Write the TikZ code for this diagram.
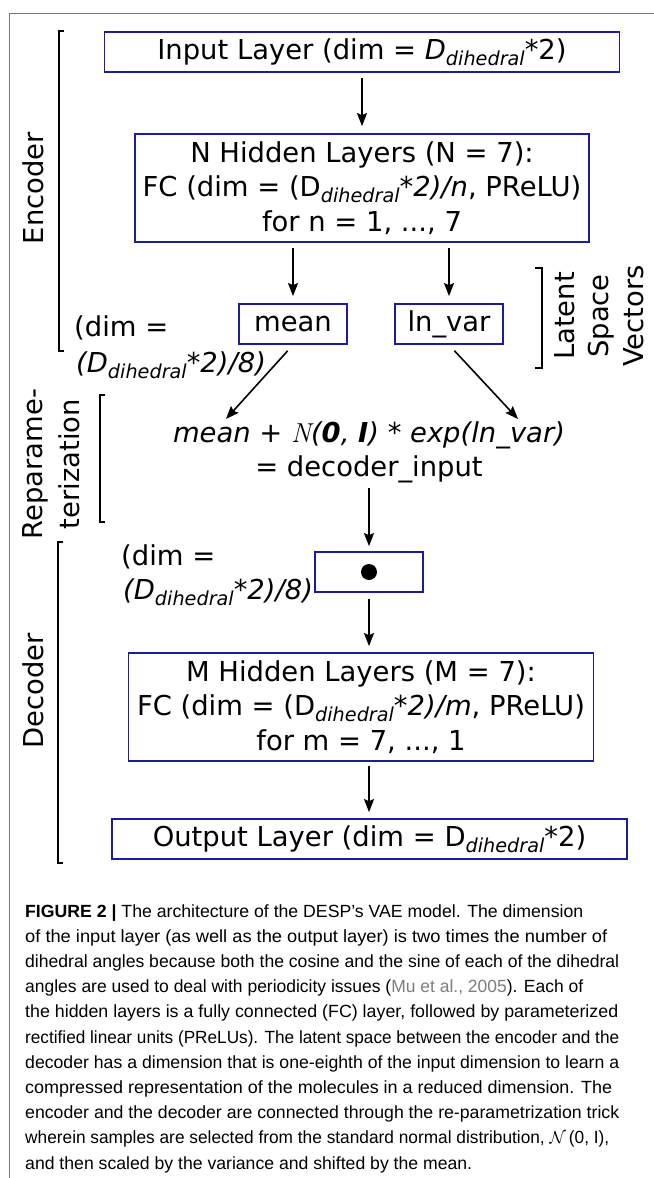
\documentclass[tikz,border=0pt]{standalone}
\usepackage{fontspec}
\usepackage{graphicx}
\usetikzlibrary{arrows.meta,calc}
\newfontfamily\djv{DejaVu Sans}
\newfontfamily\capfont{Liberation Sans}
\definecolor{boxblue}{RGB}{28,28,156}
\definecolor{refgray}{RGB}{125,125,125}
\definecolor{framegray}{RGB}{120,120,120}
\newcommand\dsub{\raisebox{-0.2em}{\fontsize{19.3}{19.3}\selectfont\itshape dihedral}}
\newcommand\capline[2]{\resizebox{#1bp}{\height}{#2}}
\begin{document}
\begin{tikzpicture}[x=1bp,y=-1bp,
  diag/.style={font=\djv\fontsize{27.5}{34.5}\selectfont},
  box/.style={diag, draw=boxblue, line width=1.8bp, inner sep=0pt, align=center},
  arr/.style={-{Stealth[length=13bp,width=10bp,inset=2bp]}, line width=1.6bp},
  brk/.style={line width=2bp},
  capl/.style={anchor=base west, inner sep=0pt, font=\capfont\fontsize{17.7}{20}\selectfont}]
\useasboundingbox (0,0) rectangle (654,1178);
\draw[framegray, line width=1bp] (654,13) -- (9,13) -- (9,1178);

% boxes
\node[box, minimum width=515bp, minimum height=40bp] (inp) at (362,52) {Input Layer (dim = \textit{D}\dsub*2)};
\node[box, minimum width=454bp, minimum height=108bp] (hid) at (362,188) {N Hidden Layers (N = 7):\\ FC (dim = (D\dsub\textit{*2)/n}, PReLU)\\ for n = 1, ..., 7};
\node[box, minimum width=108bp, minimum height=40bp] (mean) at (293,324) {mean};
\node[box, minimum width=108bp, minimum height=40bp] (lnv) at (449,324) {ln\_var};
\node[diag, inner sep=0pt, align=center] (rep) at (369,452) {\itshape mean + {\rmfamily\itshape N}(\textbf{0}, \textbf{I}) * exp(ln\_var)\\ \upshape = decoder\_input};
\node[box, minimum width=108bp, minimum height=40bp] (dot) at (369,572) {};
\fill (dot.center) circle (8bp);
\node[box, minimum width=465bp, minimum height=108bp] (mhid) at (361,707) {M Hidden Layers (M = 7):\\ FC (dim = (D\dsub\textit{*2)/m}, PReLU)\\ for m = 7, ..., 1};
\node[box, minimum width=515bp, minimum height=40bp] (out) at (369.5,839) {Output Layer (dim = D\dsub*2)};

% arrows
\coordinate (rin1) at (226,419);
\coordinate (rin2) at (518,419);
\draw[arr, shorten <=5bp, shorten >=7bp] (inp.south) -- (inp.south |- hid.north);
\draw[arr, shorten <=5bp, shorten >=7bp] (hid.south -| mean.north) -- (mean.north);
\draw[arr, shorten <=5bp, shorten >=7bp] (hid.south -| lnv.north) -- (lnv.north);
\draw[arr, shorten <=8bp] (mean.south) -- (rin1);
\draw[arr, shorten <=8bp] (lnv.south) -- (rin2);
\draw[arr, shorten <=5bp, shorten >=5bp] (rep.south) -- (rep.south |- dot.north);
\draw[arr, shorten <=6bp, shorten >=6bp] (dot.south) -- (dot.south |- mhid.north);
\draw[arr, shorten <=4bp, shorten >=6bp] (dot.south |- mhid.south) -- (dot.south |- out.north);

% brackets
\draw[brk] (64,31) -- (59,31) -- (59,351) -- (64,351);
\draw[brk] (535,268) -- (542,268) -- (542,368) -- (535,368);
\draw[brk] (105,395) -- (100,395) -- (100,522) -- (105,522);
\draw[brk] (63,542) -- (58,542) -- (58,863) -- (63,863);

% side labels
\node[diag, rotate=90] (enc) at (33,188) {Encoder};
\node[diag, rotate=90] (dec) at (33,691) {Decoder};
\node[font=\djv\fontsize{27.5}{37}\selectfont, rotate=90, align=center, inner sep=0pt] (repl) at (51,464) {Reparame-\\terization};
\node[diag, rotate=90, align=center, inner sep=0pt] (lat) at (599,316) {Latent\\Space\\Vectors};
\node[diag, anchor=west, inner sep=0pt] (ed1) at (74,328) {(dim =};
\node[diag, anchor=west, inner sep=0pt] (ed2) at (76,365) {\itshape (D\dsub*2)/8)};
\node[diag, anchor=west, inner sep=0pt] (dd1) at (121,557) {(dim =};
\node[diag, anchor=west, inner sep=0pt] (dd2) at (123,592) {\itshape (D\dsub*2)/8)};

% caption
\node[capl] (c1) at (25,917) {\capline{558}{\textbf{FIGURE 2 |} The architecture of the DESP’s VAE model. The dimension}};
\node[capl] (c2) at (25,942.2) {\capline{582}{of the input layer (as well as the output layer) is two times the number of}};
\node[capl] (c3) at (25,967.4) {\capline{594}{dihedral angles because both the cosine and the sine of each of the dihedral}};
\node[capl] (c4) at (25,992.6) {\capline{558}{angles are used to deal with periodicity issues ({\color{refgray}Mu et al., 2005}). Each of}};
\node[capl] (c5) at (25,1017.8) {\capline{593}{the hidden layers is a fully connected (FC) layer, followed by parameterized}};
\node[capl] (c6) at (25,1043) {\capline{594}{rectified linear units (PReLUs). The latent space between the encoder and the}};
\node[capl] (c7) at (25,1068.2) {\capline{594}{decoder has a dimension that is one-eighth of the input dimension to learn a}};
\node[capl] (c8) at (25,1093.4) {\capline{587}{compressed representation of the molecules in a reduced dimension. The}};
\node[capl] (c9) at (25,1118.6) {\capline{594}{encoder and the decoder are connected through the re-parametrization trick}};
\node[capl] (c10) at (25,1143.8) {\capline{584}{wherein samples are selected from the standard normal distribution, $\mathcal{N}$\,(0, I),}};
\node[capl] (c11) at (25,1169) {and then scaled by the variance and shifted by the mean.};
\end{tikzpicture}
\end{document}
